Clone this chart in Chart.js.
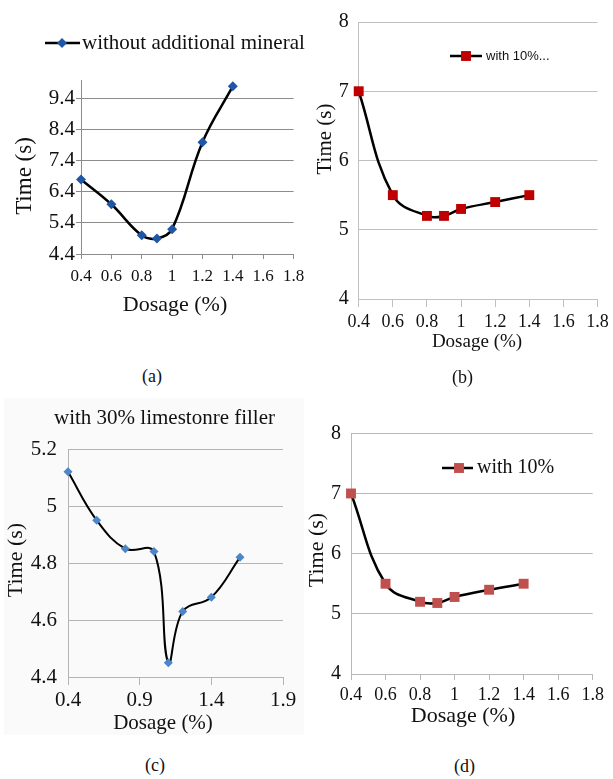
<!DOCTYPE html>
<html>
<head>
<meta charset="utf-8">
<script src="https://cdn.jsdelivr.net/npm/chart.js@4"></script>
<style>
  body { margin: 0; background: #fff; width: 613px; height: 779px; position: relative; overflow: hidden; }
  canvas { position: absolute; }
  .shade { position: absolute; left: 4px; top: 398px; width: 300px; height: 337px; background: #fafafa; }
  .cap { position: absolute; font: 18px "Liberation Serif", serif; line-height: 20px; color: #111; }
</style>
</head>
<body>
<div class="shade"></div>
<canvas id="chartA" width="312" height="320" style="left:0;top:0"></canvas>
<canvas id="chartB" width="313" height="360" style="left:300px;top:0"></canvas>
<canvas id="chartC" width="305" height="350" style="left:0;top:390px"></canvas>
<canvas id="chartD" width="313" height="345" style="left:300px;top:390px"></canvas>
<div class="cap" style="left:142px;top:366px">(a)</div>
<div class="cap" style="left:452px;top:367px">(b)</div>
<div class="cap" style="left:145px;top:755px">(c)</div>
<div class="cap" style="left:454px;top:756px">(d)</div>
<script>
// ---- Data ----
const DOSAGE_A = [0.4, 0.6, 0.8, 0.9, 1.0, 1.2, 1.4];
const TIME_A = [6.8, 6.0, 5.0, 4.9, 5.2, 8.0, 9.8];
const X_TICKS_A = [0.4, 0.6, 0.8, 1.0, 1.2, 1.4, 1.6, 1.8];
const Y_TICKS_A = [4.4, 5.4, 6.4, 7.4, 8.4, 9.4];

const DOSAGE_B = [0.4, 0.6, 0.8, 0.9, 1.0, 1.2, 1.4];
const TIME_B = [7.0, 5.5, 5.2, 5.2, 5.3, 5.4, 5.5];
const X_TICKS_B = [0.4, 0.6, 0.8, 1.0, 1.2, 1.4, 1.6, 1.8];
const Y_TICKS_B = [4, 5, 6, 7, 8];

const DOSAGE_C = [0.4, 0.6, 0.8, 1.0, 1.1, 1.2, 1.4, 1.6];
const TIME_C = [5.12, 4.95, 4.85, 4.84, 4.45, 4.63, 4.68, 4.82];
const X_TICKS_C = [0.4, 0.9, 1.4, 1.9];
const Y_TICKS_C = [4.4, 4.6, 4.8, 5.0, 5.2];

const DOSAGE_D = [0.4, 0.6, 0.8, 0.9, 1.0, 1.2, 1.4];
const TIME_D = [7.0, 5.5, 5.2, 5.18, 5.28, 5.4, 5.5];
const X_TICKS_D = [0.4, 0.6, 0.8, 1.0, 1.2, 1.4, 1.6, 1.8];
const Y_TICKS_D = [4, 5, 6, 7, 8];

const SERIF = '"Liberation Serif", "Times New Roman", serif';
const SANS = '"Liberation Sans", Arial, sans-serif';

Chart.defaults.font.family = SERIF;
Chart.defaults.color = '#111';

const fmt = v => String(+Number(v).toFixed(2));

// ---- Extra text: legends, titles, axis titles ----
function drawMarker(ctx, m, x, y) {
  ctx.fillStyle = m.color;
  ctx.beginPath();
  if (m.style === 'rectRot') {
    ctx.moveTo(x, y - m.r);
    ctx.lineTo(x + m.r, y);
    ctx.lineTo(x, y + m.r);
    ctx.lineTo(x - m.r, y);
  } else {
    const h = m.r * Math.SQRT1_2;
    ctx.rect(x - h, y - h, 2 * h, 2 * h);
  }
  ctx.closePath();
  ctx.fill();
}

function drawExtras(ctx, items) {
  for (const it of items) {
    ctx.save();
    if (it.kind === 'legend') {
      ctx.strokeStyle = '#000';
      ctx.lineWidth = it.lineWidth;
      ctx.beginPath();
      ctx.moveTo(it.x1, it.y);
      ctx.lineTo(it.x2, it.y);
      ctx.stroke();
      drawMarker(ctx, it.marker, it.mx, it.y);
      ctx.font = it.font;
      ctx.fillStyle = '#111';
      ctx.textAlign = 'left';
      ctx.textBaseline = 'middle';
      ctx.fillText(it.text, it.tx, it.y);
    } else {
      ctx.font = it.font;
      ctx.fillStyle = '#111';
      ctx.textAlign = 'center';
      ctx.textBaseline = 'middle';
      ctx.translate(it.x, it.y);
      if (it.rotate) ctx.rotate(-Math.PI / 2);
      ctx.fillText(it.text, 0, 0);
    }
    ctx.restore();
  }
}

// ---- One panel ----
function makeChart(id, p) {
  const canvas = document.getElementById(id);
  const W = canvas.width, H = canvas.height;
  return new Chart(canvas, {
    type: 'line',
    data: {
      datasets: [{
        data: p.xs.map((x, i) => ({ x, y: p.ys[i] })),
        borderColor: '#000',
        borderWidth: p.lineWidth,
        tension: 0.4,
        pointStyle: p.marker.style,
        pointRadius: p.marker.r,
        pointHoverRadius: p.marker.r,
        pointBackgroundColor: p.marker.color,
        pointBorderColor: p.marker.color,
        pointBorderWidth: 0,
        clip: false,
      }],
    },
    options: {
      responsive: false,
      animation: false,
      events: [],
      layout: { padding: { top: p.area.top, right: W - p.area.right, bottom: 0, left: 0 } },
      plugins: { legend: { display: false }, tooltip: { enabled: false } },
      scales: {
        x: {
          type: 'linear',
          min: p.xTicks[0],
          max: p.xTicks[p.xTicks.length - 1],
          afterBuildTicks: s => { s.ticks = p.xTicks.map(v => ({ value: v })); },
          afterFit: s => { s.height = H - p.area.bottom; },
          grid: { drawOnChartArea: false, drawTicks: true, tickLength: p.xTickLen, color: p.gridColor },
          border: { color: p.gridColor },
          ticks: { font: { size: p.xTickFont }, padding: p.xTickPad, maxRotation: 0, autoSkip: false, callback: fmt },
        },
        y: {
          min: p.yMin,
          max: p.yMax,
          afterBuildTicks: s => { s.ticks = p.yTicks.map(v => ({ value: v })); },
          afterFit: s => { s.width = p.area.left; },
          grid: { color: p.gridColor, drawTicks: p.yTickLen > 0, tickLength: p.yTickLen },
          border: { color: p.gridColor },
          ticks: { font: { size: p.yTickFont }, padding: p.yTickPad, autoSkip: false, callback: fmt },
        },
      },
    },
    plugins: [{ id: 'extras', afterDraw: c => drawExtras(c.ctx, p.extras) }],
  });
}

// (a) without additional mineral
makeChart('chartA', {
  xs: DOSAGE_A, ys: TIME_A, xTicks: X_TICKS_A, yTicks: Y_TICKS_A, yMin: 4.4, yMax: 10.0,
  area: { left: 81, top: 80, right: 294, bottom: 254 },
  lineWidth: 2.5, marker: { style: 'rectRot', r: 5, color: '#1F57A6' },
  gridColor: '#8c8c8c',
  xTickLen: 5, xTickFont: 17, xTickPad: 7.8,
  yTickLen: 5, yTickFont: 21, yTickPad: 1,
  extras: [
    { kind: 'legend', x1: 45, x2: 80, mx: 62, y: 43, tx: 82, lineWidth: 2.5,
      marker: { style: 'rectRot', r: 5, color: '#1F57A6' },
      font: '21px ' + SERIF, text: 'without additional mineral' },
    { kind: 'text', x: 175, y: 305, font: '22px ' + SERIF, text: 'Dosage (%)' },
    { kind: 'text', x: 25, y: 176, font: '23px ' + SERIF, text: 'Time (s)', rotate: true },
  ],
});

// (b) with 10%...
makeChart('chartB', {
  xs: DOSAGE_B, ys: TIME_B, xTicks: X_TICKS_B, yTicks: Y_TICKS_B, yMin: 4, yMax: 8,
  area: { left: 58.7, top: 16, right: 299, bottom: 299 },
  lineWidth: 2.5, marker: { style: 'rect', r: 7, color: '#C00000' },
  gridColor: '#c0c0c0',
  xTickLen: 8, xTickFont: 18, xTickPad: 4.2,
  yTickLen: 0, yTickFont: 20, yTickPad: 10,
  extras: [
    { kind: 'legend', x1: 150, x2: 182, mx: 166, y: 56, tx: 186, lineWidth: 2.5,
      marker: { style: 'rect', r: 7, color: '#C00000' },
      font: '13px ' + SANS, text: 'with 10%...' },
    { kind: 'text', x: 177, y: 342, font: '19px ' + SERIF, text: 'Dosage (%)' },
    { kind: 'text', x: 25.5, y: 139, font: '21px ' + SERIF, text: 'Time (s)', rotate: true },
  ],
});

// (c) with 30% limestone filler
makeChart('chartC', {
  xs: DOSAGE_C, ys: TIME_C, xTicks: X_TICKS_C, yTicks: Y_TICKS_C, yMin: 4.4, yMax: 5.2,
  area: { left: 68, top: 59, right: 283, bottom: 287 },
  lineWidth: 2, marker: { style: 'rectRot', r: 4.5, color: '#4A86C8' },
  gridColor: '#b4b4b4',
  xTickLen: 8, xTickFont: 21, xTickPad: 2.4,
  yTickLen: 0, yTickFont: 21, yTickPad: 11,
  extras: [
    { kind: 'text', x: 164.5, y: 28, font: '21px ' + SERIF, text: 'with 30% limestonre filler' },
    { kind: 'text', x: 163, y: 333, font: '21px ' + SERIF, text: 'Dosage (%)' },
    { kind: 'text', x: 16, y: 170, font: '22px ' + SERIF, text: 'Time (s)', rotate: true },
  ],
});

// (d) with 10%
makeChart('chartD', {
  xs: DOSAGE_D, ys: TIME_D, xTicks: X_TICKS_D, yTicks: Y_TICKS_D, yMin: 4, yMax: 8,
  area: { left: 51, top: 43.3, right: 292.7, bottom: 284 },
  lineWidth: 2.5, marker: { style: 'rect', r: 7, color: '#C0504D' },
  gridColor: '#b8b8b8',
  xTickLen: 6, xTickFont: 18, xTickPad: 4.2,
  yTickLen: 0, yTickFont: 20, yTickPad: 10,
  extras: [
    { kind: 'legend', x1: 142, x2: 173, mx: 159, y: 78, tx: 177, lineWidth: 2.5,
      marker: { style: 'rect', r: 7, color: '#C0504D' },
      font: '20px ' + SERIF, text: 'with 10%' },
    { kind: 'text', x: 163, y: 326, font: '22px ' + SERIF, text: 'Dosage (%)' },
    { kind: 'text', x: 17.5, y: 160, font: '22px ' + SERIF, text: 'Time (s)', rotate: true },
  ],
});
</script>
</body>
</html>
